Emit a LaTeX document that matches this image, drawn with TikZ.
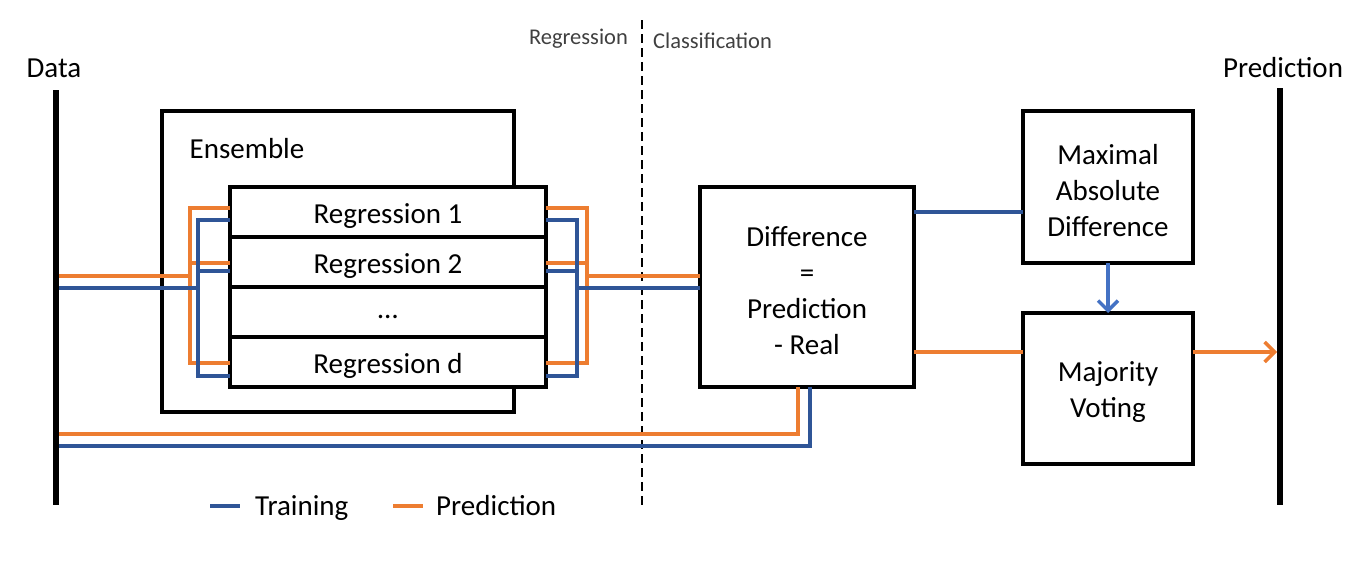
\documentclass[tikz,border=0pt]{standalone}
\usepackage{fontspec}
\setmainfont{Carlito}
\usetikzlibrary{arrows.meta,positioning}
\definecolor{trainblue}{HTML}{2F5597}
\definecolor{predorange}{HTML}{ED7D31}
\definecolor{arrowblue}{HTML}{4472C4}
\definecolor{sidegray}{HTML}{404040}
\newcommand{\topstrut}{\rule{0pt}{27pt}}

\begin{document}
\begin{tikzpicture}[x=1pt,y=-1pt,
    every node/.style={font=\fontsize{29}{36}\selectfont, inner sep=0pt},
    box/.style={draw, line width=3.5pt, fill=white, align=center, outer sep=0pt},
    regbox/.style={box, minimum width=316pt, minimum height=50pt},
    bar/.style={fill=black, minimum width=5.5pt},
    trainline/.style={draw=trainblue, line width=3.5pt},
    predline/.style={draw=predorange, line width=3.5pt},
    sidelabel/.style={font=\fontsize{22.5}{27}\selectfont, text=sidegray},
    barb/.style={-{Straight Barb[length=10pt,width=20pt]}}]
  \useasboundingbox (0,0) rectangle (1368,568);

  % input and output bars
  \node[bar, minimum height=415pt] (data) at (56,297.5) {};
  \node (datalbl) at (54,68) {Data};
  \node[bar, minimum height=417pt] (pred) at (1280,296.5) {};
  \node (predlbl) at (1283,68) {Prediction};

  % regression / classification split
  \node[sidelabel, anchor=east] (reglbl) at (628,39) {Regression};
  \node[sidelabel, anchor=west] (clslbl) at (653,41) {Classification};
  \coordinate (splittop) at (642,20);
  \coordinate (splitbot) at (642,505);
  \draw[line width=1.5pt, dash pattern=on 9pt off 5pt] (splittop) -- (splitbot);

  % ensemble of regressions
  \node[box, minimum width=352pt, minimum height=301pt] (ens) at (338,261.5) {};
  \node (enslbl) at (247,149) {Ensemble};
  \node[regbox] (reg1) at (388,212) {\topstrut Regression 1};
  \node[regbox, below=0pt of reg1] (reg2) {\topstrut Regression 2};
  \node[regbox, below=0pt of reg2] (regdots) {\rule{0pt}{14pt}…};
  \node[regbox, below=0pt of regdots] (regd) {\topstrut Regression d};

  % classification boxes
  \node[box, minimum width=214pt, minimum height=200pt] (diff) at (807,287)
    {\topstrut Difference\\=\\Prediction\\- Real};
  \node[box, minimum width=170pt, minimum height=152pt] (maxd) at (1108,187)
    {\topstrut Maximal\\Absolute\\Difference};
  \node[box, minimum width=170pt, minimum height=151pt] (vote) at (1108,388.5)
    {\topstrut Majority\\Voting};

  % prediction paths
  \draw[predline] (data.east |- 0,276) -- (190,276);
  \draw[predline] (reg1.west |- 0,208) -| (190,363) -- (regd.west |- 0,363);
  \draw[predline] (190,263) -- (reg2.west |- 0,263);
  \draw[predline] (reg1.east |- 0,208) -| (587,363) -- (regd.east |- 0,363);
  \draw[predline] (reg2.east |- 0,263) -- (587,263);
  \draw[predline] (587,276) -- (diff.west |- 0,276);
  \draw[predline] (data.east |- 0,434) -| (diff.south -| 798,0);
  \draw[predline] (diff.east |- 0,352) -- (vote.west |- 0,352);
  \draw[predline, barb] (vote.east |- 0,352) -- (pred.west |- 0,352);

  % training paths
  \draw[trainline] (data.east |- 0,288) -- (198,288);
  \draw[trainline] (reg1.west |- 0,220) -| (198,376) -- (regd.west |- 0,376);
  \draw[trainline] (198,271) -- (reg2.west |- 0,271);
  \draw[trainline] (reg1.east |- 0,220) -| (577,376) -- (regd.east |- 0,376);
  \draw[trainline] (reg2.east |- 0,271) -- (577,271);
  \draw[trainline] (577,288) -- (diff.west |- 0,288);
  \draw[trainline] (data.east |- 0,446) -| (diff.south -| 810,0);
  \draw[trainline] (diff.east |- 0,212) -- (maxd.west |- 0,212);
  \draw[draw=arrowblue, line width=3.5pt, barb] (maxd) -- (vote);

  % legend
  \node[anchor=base west] (trainlgd) at (255,515) {Training};
  \node[anchor=base west] (predlgd) at (436,515) {Prediction};
  \draw[trainline] ([xshift=-45pt,yshift=9pt]trainlgd.base west) -- ++(30,0);
  \draw[predline] ([xshift=-43pt,yshift=9pt]predlgd.base west) -- ++(30,0);
\end{tikzpicture}
\end{document}
